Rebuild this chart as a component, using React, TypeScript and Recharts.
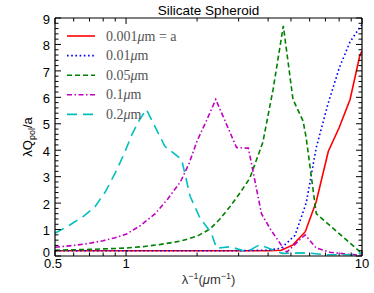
import { LineChart, Line, XAxis, YAxis, Legend } from "recharts";

// curve samples (x = 1/lambda in um^-1)
const xA001 = [0.5, 1, 2, 3, 4, 4.55, 5.1, 5.75, 6.4, 7.2, 8.0, 8.9, 9.8, 10];
const yA001 = [0.2, 0.2, 0.2, 0.2, 0.2, 0.22, 0.42, 0.92, 2.06, 3.96, 4.85, 5.92, 7.6, 7.75];

const xA01 = [0.5, 1, 2, 3, 4, 4.55, 5.2, 5.8, 6.4, 7.2, 8.0, 8.9, 9.8, 10];
const yA01 = [0.2, 0.2, 0.2, 0.2, 0.22, 0.3, 0.78, 2.0, 4.1, 5.8, 7.1, 8.1, 8.65, 8.75];

const xA05 = [0.5, 0.7, 1, 1.2, 1.4, 1.7, 2.0, 2.27, 2.5, 2.76, 3.05, 3.35, 3.8, 4.2, 4.64, 5.1, 5.63, 5.8, 6.4, 9.8, 10];
const yA05 = [0.22, 0.25, 0.3, 0.36, 0.44, 0.56, 0.75, 1.02, 1.4, 1.87, 2.4, 2.95, 4.3, 6.3, 8.7, 5.92, 5.1, 4.47, 1.6, 0.16, 0.08];

const xA1 = [0.5, 0.6, 0.7, 0.8, 0.9, 1, 1.15, 1.33, 1.5, 1.7, 1.85, 2.0, 2.2, 2.4, 2.94, 3.3, 3.75, 4.1, 4.64, 4.8, 5.74, 6.4, 7.3, 8.9, 10];
const yA1 = [0.33, 0.4, 0.48, 0.58, 0.69, 0.82, 1.15, 1.6, 2.15, 2.8, 3.5, 4.35, 5.15, 5.92, 4.1, 4.08, 1.6, 1.0, 0.3, 0.15, 0.8, 0.3, 0.14, 0.06, 0.03];

const xA2 = [0.5, 0.58, 0.66, 0.74, 0.82, 0.9, 0.98, 1.06, 1.14, 1.22, 1.46, 1.72, 1.87, 2.06, 2.3, 2.42, 2.76, 3.25, 3.68, 4.2, 4.6, 5.8, 7, 9, 10];
const yA2 = [0.86, 1.18, 1.5, 1.87, 2.45, 3.14, 3.85, 4.6, 5.15, 5.54, 4.15, 3.65, 2.25, 1.43, 0.86, 0.29, 0.35, 0.16, 0.42, 0.23, 0.1, 0.12, 0.05, 0.05, 0.12];

const X_MAJOR = [0.5, 1, 10];
const X_MINOR = [0.6, 0.7, 0.8, 0.9, 2, 3, 4, 5, 6, 7, 8, 9];
const Y_MAJOR = [0, 1, 2, 3, 4, 5, 6, 7, 8, 9];

const X_TICKS = [...X_MAJOR, ...X_MINOR].sort((a, b) => a - b);
// minor y ticks every 0.2
const Y_TICKS = Array.from({ length: 46 }, (_, i) => Math.round(i * 2) / 10);

const FONT = "'Liberation Sans', Arial, sans-serif";
const SERIF = "'Liberation Serif', 'Times New Roman', serif";

const PLOT_TOP = 18;
const PLOT_BOTTOM = 256;
const PLOT_LEFT = 55;
const PLOT_RIGHT = 362;

const toRows = (xs: number[], ys: number[]) => xs.map((x, i) => ({ x, y: ys[i] }));

const SERIES = [
  { key: "a001", pre: "0.001", post: "m = a", color: "#ff0000", dash: undefined, xs: xA001, ys: yA001 },
  { key: "a01", pre: "0.01", post: "m", color: "#0000ff", dash: "1.6 2.6", xs: xA01, ys: yA01 },
  { key: "a05", pre: "0.05", post: "m", color: "#008000", dash: "5 3", xs: xA05, ys: yA05 },
  { key: "a1", pre: "0.1", post: "m", color: "#bf00bf", dash: "5 2.5 1.5 2.5", xs: xA1, ys: yA1 },
  { key: "a2", pre: "0.2", post: "m", color: "#00bfbf", dash: "10 6", xs: xA2, ys: yA2 },
];

const isMajorX = (v: number) => X_MAJOR.includes(v);
const isMajorY = (v: number) => Y_MAJOR.includes(v);

function BottomTick({ x, payload }: any) {
  const major = isMajorX(payload.value);
  return (
    <g>
      <path d={`M${x},${PLOT_BOTTOM}V${PLOT_BOTTOM - (major ? 6 : 3.5)}`} stroke="#000" strokeWidth={1} fill="none" />
      {major && (
        <text
          x={payload.value === 0.5 ? x - 2 : x}
          y={PLOT_BOTTOM + 3}
          dy="0.71em"
          textAnchor="middle"
          fontFamily={FONT}
          fontSize={13}
          fill="#000"
        >
          {payload.value}
        </text>
      )}
    </g>
  );
}

function TopTick({ x, payload }: any) {
  const major = isMajorX(payload.value);
  return <path d={`M${x},${PLOT_TOP}V${PLOT_TOP + (major ? 6 : 3.5)}`} stroke="#000" strokeWidth={1} fill="none" />;
}

function LeftTick({ y, payload }: any) {
  const major = isMajorY(payload.value);
  return (
    <g>
      <path d={`M${PLOT_LEFT},${y}H${PLOT_LEFT + (major ? 6 : 3.5)}`} stroke="#000" strokeWidth={1} fill="none" />
      {major && (
        <text
          x={PLOT_LEFT - 5}
          y={payload.value === 0 ? y - 4 : y + 1}
          dy="0.36em"
          textAnchor="end"
          fontFamily={FONT}
          fontSize={13}
          fill="#000"
        >
          {payload.value}
        </text>
      )}
    </g>
  );
}

function RightTick({ y, payload }: any) {
  const major = isMajorY(payload.value);
  return <path d={`M${PLOT_RIGHT},${y}H${PLOT_RIGHT - (major ? 6 : 3.5)}`} stroke="#000" strokeWidth={1} fill="none" />;
}

function LegendBox() {
  return (
    <svg width={140} height={104}>
      {SERIES.map((s, i) => {
        const cy = 12 + i * 19.6;
        return (
          <g key={s.key}>
            <line x1={7} x2={35} y1={cy} y2={cy} stroke={s.color} strokeWidth={1.6} strokeDasharray={s.dash} />
            <text x={46} y={cy} dy="0.33em" fontFamily={SERIF} fontSize={14} fill="#555">
              {s.pre}
              <tspan fontStyle="italic">μ</tspan>
              {s.post}
            </text>
          </g>
        );
      })}
    </svg>
  );
}

export default function App() {
  return (
    <div style={{ position: "absolute", left: 0, top: 0, background: "#fff" }}>
      <LineChart width={374} height={293} margin={{ top: PLOT_TOP - 1, right: 374 - PLOT_RIGHT - 1, bottom: 0, left: 0 }}>
        <XAxis
          xAxisId="bottom"
          dataKey="x"
          type="number"
          scale="log"
          domain={[0.5, 10]}
          allowDataOverflow
          ticks={X_TICKS}
          interval={0}
          height={293 - PLOT_BOTTOM}
          tickSize={0}
          tickMargin={2}
          tickLine={false}
          axisLine={{ stroke: "#000", strokeWidth: 1.2 }}
          tick={<BottomTick />}
          label={{
            content: () => (
              <text
                x={(PLOT_LEFT + PLOT_RIGHT) / 2}
                y={PLOT_BOTTOM + 28}
                textAnchor="middle"
                fontFamily={FONT}
                fontSize={13}
                fill="#333"
              >
                λ<tspan dy={-5} fontSize={9}>−1</tspan>
                <tspan dy={5}>(</tspan>
                <tspan fontStyle="italic">μ</tspan>m<tspan dy={-5} fontSize={9}>−1</tspan>
                <tspan dy={5}>)</tspan>
              </text>
            ),
          }}
        />
        {/* mirrored top axis: inward ticks + title */}
        <XAxis
          xAxisId="top"
          orientation="top"
          dataKey="x"
          type="number"
          scale="log"
          domain={[0.5, 10]}
          allowDataOverflow
          ticks={X_TICKS}
          interval={0}
          height={1}
          tickSize={0}
          tickMargin={0}
          tickLine={false}
          axisLine={{ stroke: "#000", strokeWidth: 1.2 }}
          tick={<TopTick />}
          label={{
            content: () => (
              <text
                x={(PLOT_LEFT + PLOT_RIGHT) / 2}
                y={PLOT_TOP - 3.5}
                textAnchor="middle"
                fontFamily={FONT}
                fontSize={13.5}
                fill="#000"
              >
                Silicate Spheroid
              </text>
            ),
          }}
        />
        <YAxis
          yAxisId="left"
          type="number"
          domain={[0, 9]}
          allowDataOverflow
          ticks={Y_TICKS}
          interval={0}
          width={PLOT_LEFT}
          tickSize={0}
          tickMargin={5}
          tickLine={false}
          axisLine={{ stroke: "#000", strokeWidth: 1.2 }}
          tick={<LeftTick />}
          label={{
            content: () => (
              <text
                transform={`translate(32,${(PLOT_TOP + PLOT_BOTTOM) / 2}) rotate(-90)`}
                textAnchor="middle"
                fontFamily={FONT}
                fontSize={13}
                fill="#000"
              >
                λQ<tspan fontSize={9} dy={3}>pol</tspan>
                <tspan dy={-3}>/a</tspan>
              </text>
            ),
          }}
        />
        <YAxis
          yAxisId="right"
          orientation="right"
          type="number"
          domain={[0, 9]}
          allowDataOverflow
          ticks={Y_TICKS}
          interval={0}
          width={1}
          tickSize={0}
          tickMargin={0}
          tickLine={false}
          axisLine={{ stroke: "#000", strokeWidth: 1.2 }}
          tick={<RightTick />}
        />
        <Legend
          layout="horizontal"
          verticalAlign="middle"
          align="center"
          wrapperStyle={{ left: 60, top: 24, width: 140, height: 104 }}
          content={() => <LegendBox />}
        />
        {/* invisible series so the mirrored top/right axes get drawn */}
        <Line
          xAxisId="top"
          yAxisId="right"
          data={toRows(xA001, yA001)}
          dataKey="y"
          stroke="none"
          dot={false}
          activeDot={false}
          legendType="none"
          isAnimationActive={false}
        />
        {SERIES.map((s) => (
          <Line
            key={s.key}
            xAxisId="bottom"
            yAxisId="left"
            data={toRows(s.xs, s.ys)}
            dataKey="y"
            type="linear"
            stroke={s.color}
            strokeWidth={1.6}
            strokeDasharray={s.dash}
            dot={false}
            activeDot={false}
            isAnimationActive={false}
          />
        ))}
      </LineChart>
    </div>
  );
}
